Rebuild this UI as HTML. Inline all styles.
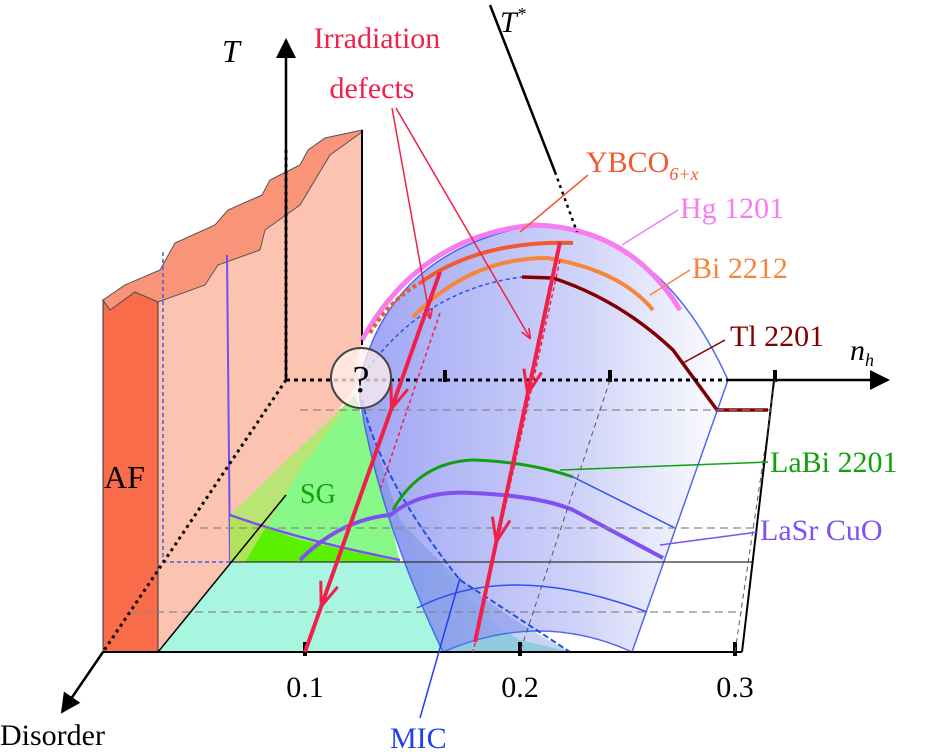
<!DOCTYPE html>
<html><head><meta charset="utf-8"><style>
html,body{margin:0;padding:0;background:#fff}
svg{display:block}
svg text{font-family:"Liberation Serif","DejaVu Serif","Times New Roman",serif !important}
</style></head><body>
<svg id="chart" width="931" height="754" viewBox="0 0 931 754" font-family="Liberation Serif, DejaVu Serif, serif">
<defs>
<linearGradient id="dome" x1="0" x2="1" y1="0" y2="0">
<stop offset="0" stop-color="#8f96f3"/><stop offset="0.6" stop-color="#c8ccf8"/><stop offset="1" stop-color="#ffffff"/>
</linearGradient>
<marker id="ar" viewBox="0 0 10 10" refX="9" refY="5" markerWidth="8" markerHeight="8" orient="auto"><path d="M0,0L10,5L0,10z" fill="#000"/></marker>
<marker id="arR" viewBox="0 0 10 10" refX="9" refY="5" markerWidth="7" markerHeight="7" orient="auto"><path d="M0,1L10,5L0,9" fill="none" stroke="#f0204a" stroke-width="1.5"/></marker>
</defs>

<path d="M230,562 L440,562 Q470,610 520,640 L570,652 L158,652 Z" fill="#a8f5e0"/>
<path d="M103,300 L110,310 L135,292 L158,302 L158,652 L103,652 Z" fill="#f86c4a" stroke="#333" stroke-width="1"/>
<path d="M158,302 L205,285 L218,265 L260,250 L265,230 L300,205 L330,155 L362,132 L362,345 Q350,370 360,380 L230,562 L158,652 Z" fill="#fcc3b0"/>
<path d="M103,300 L125,285 L160,270 L175,243 L215,225 L228,210 L262,195 L270,180 L300,165 L308,150 L325,138 L362,130 L362,132 L330,155 L300,205 L265,230 L260,250 L218,265 L205,285 L158,302 L135,292 L110,310 Z" fill="#f99478" stroke="#555" stroke-width="1"/>
<line x1="362" y1="130" x2="362" y2="345" stroke="#000" stroke-width="2"/>
<line x1="158" y1="302" x2="158" y2="652" stroke="#333" stroke-width="1"/>
<line x1="227" y1="255" x2="230" y2="562" stroke="#7050f0" stroke-width="2"/>
<line x1="163" y1="252" x2="163" y2="562" stroke="#4060f0" stroke-width="1.5" stroke-dasharray="4,3"/>
<line x1="163" y1="562" x2="230" y2="562" stroke="#4060f0" stroke-width="1.5" stroke-dasharray="4,3"/>

<path d="M230,515 L355,395 Q380,470 400,562 L230,562 Z" fill="#88f888"/>
<path d="M230,515 L230,562 L400,562 L300,540 Z" fill="#5af000"/>
<path d="M230,515 L355,395 L300,470 L245,562 L230,562 Z" fill="#c5e070" opacity="0.8"/>

<path d="M360,380 Q390,250 535,225 Q660,230 728,380 L632,652 Q540,610 443,652 Q380,520 360,400 Z" fill="url(#dome)" opacity="0.85" stroke="#3050f0" stroke-width="1.5"/>
<path d="M360,400 Q380,520 443,652 L570,652 Q470,600 400,520 Z" fill="#6080e0" opacity="0.35"/>
<path d="M362,340 Q420,235 535,225 Q630,228 680,310" fill="none" stroke="#f77cf0" stroke-width="5"/>
<path d="M370,333 Q390,300 420,283" fill="none" stroke="#f05a30" stroke-width="4" stroke-dasharray="4,3"/>
<path d="M420,283 Q480,240 573,243" fill="none" stroke="#f05a30" stroke-width="4"/>
<path d="M413,317 Q470,258 547,258 Q620,270 653,310" fill="none" stroke="#f5863a" stroke-width="4"/>
<path d="M522,277 L553,278 Q620,300 673,350 L717,410 L768,410" fill="none" stroke="#800000" stroke-width="3.5"/>
<path d="M360,380 Q420,290 522,277" fill="none" stroke="#3050f0" stroke-width="1.5" stroke-dasharray="4,3"/>
<path d="M362,400 Q380,480 460,580 L570,652" fill="none" stroke="#2050e0" stroke-width="2" stroke-dasharray="6,3"/>
<path d="M393,510 Q420,462 473,460 Q530,462 573,477" fill="none" stroke="#10a010" stroke-width="3"/>
<path d="M573,477 L675,528" fill="none" stroke="#3050f0" stroke-width="1.5"/>
<path d="M300,560 Q340,520 390,515 L400,508 Q430,490 473,493 Q540,496 573,510 L663,558" fill="none" stroke="#8050f0" stroke-width="4"/>
<path d="M230,515 Q300,540 400,560" fill="none" stroke="#8050f0" stroke-width="2.5"/>
<path d="M417,608 Q510,560 647,612" fill="none" stroke="#3050f0" stroke-width="1.5"/>

<g stroke="#888" stroke-width="1.2" stroke-dasharray="8,5" fill="none">
<line x1="300" y1="410" x2="770" y2="410"/>
<line x1="200" y1="528" x2="755" y2="528"/>
<line x1="130" y1="612" x2="742" y2="612"/>
</g>
<line x1="230" y1="562" x2="752" y2="562" stroke="#333" stroke-width="1.2"/>

<g id="axes"></g>

<g id="red" fill="none" stroke="#f0204a">
<line x1="440" y1="313" x2="380" y2="490" stroke-width="1.5" stroke-dasharray="4,3"/>
<line x1="560" y1="260" x2="473" y2="652" stroke-width="1.5" stroke-dasharray="4,3"/>
<line x1="440" y1="272" x2="305" y2="652" stroke-width="4"/>
<line x1="560" y1="242" x2="475" y2="642" stroke-width="4"/>
</g>

<circle cx="361" cy="378" r="30" fill="#fff0ee" fill-opacity="0.75" stroke="#444" stroke-width="2"/>
<text x="361" y="392" font-size="38" text-anchor="middle" fill="#000">?</text>

<line x1="490" y1="5" x2="555" y2="172" stroke="#000" stroke-width="2.5"/>
<line x1="555" y1="172" x2="577" y2="232" stroke="#000" stroke-width="2.5" stroke-dasharray="3,4"/>

<g fill="none" stroke-width="1.5">
<line x1="392" y1="108" x2="430" y2="318" stroke="#f0204a" marker-end="url(#arR)"/>
<line x1="396" y1="108" x2="530" y2="338" stroke="#f0204a" marker-end="url(#arR)"/>
<line x1="588" y1="175" x2="520" y2="232" stroke="#f05a30"/>
<line x1="678" y1="210" x2="622" y2="245" stroke="#f77cf0"/>
<line x1="690" y1="270" x2="650" y2="295" stroke="#f5863a"/>
<line x1="725" y1="340" x2="683" y2="363" stroke="#800000"/>
<line x1="768" y1="462" x2="560" y2="470" stroke="#10a010"/>
<line x1="758" y1="532" x2="660" y2="545" stroke="#8050f0"/>
<line x1="420" y1="718" x2="460" y2="578" stroke="#2040f0"/>
</g>

<g>
<text x="222" y="62" font-size="32" font-style="italic">T</text>
<text x="500" y="32" font-size="30" font-style="italic">T<tspan font-size="18" dy="-12">*</tspan></text>
<text x="377" y="48" font-size="30" fill="#f0204a" text-anchor="middle">Irradiation</text>
<text x="372" y="98" font-size="30" fill="#f0204a" text-anchor="middle">defects</text>
<text x="586" y="172" font-size="30" fill="#f05a30">YBCO<tspan font-size="18" dy="8" font-style="italic">6+x</tspan></text>
<text x="680" y="218" font-size="30" fill="#f77cf0">Hg 1201</text>
<text x="692" y="278" font-size="30" fill="#f5863a">Bi 2212</text>
<text x="730" y="346" font-size="30" fill="#800000">Tl 2201</text>
<text x="850" y="360" font-size="30" font-style="italic">n<tspan font-size="18" dy="6">h</tspan></text>
<text x="770" y="472" font-size="30" fill="#10a010">LaBi 2201</text>
<text x="760" y="540" font-size="30" fill="#8050f0">LaSr CuO</text>
<text x="104" y="488" font-size="32">AF</text>
<text x="300" y="503" font-size="28" fill="#10a010">SG</text>
<text x="0" y="745" font-size="30">Disorder</text>
<text x="390" y="748" font-size="30" fill="#2040f0">MIC</text>
</g>
</svg>
<script>
const nTicks = [0.1, 0.2, 0.3];
const tickLabels = ["0.1", "0.2", "0.3"];
const NS = "http://www.w3.org/2000/svg";
const xFront = n => 305 + (n - 0.1) * 2150;
const xBack = n => 445 + (n - 0.1) * 1650;
const axes = document.getElementById('axes');
function mk(tag, attrs, parent) {
  const e = document.createElementNS(NS, tag);
  for (const k in attrs) e.setAttribute(k, attrs[k]);
  (parent || axes).appendChild(e);
  return e;
}
let e;
e = mk('line', {x1:286, y1:380, x2:286, y2:40, stroke:'#000', 'stroke-width':2.5, 'marker-end':'url(#ar)'});


e = mk('line', {x1:286, y1:150, x2:286, y2:380, stroke:'#000', 'stroke-width':3, 'stroke-dasharray':'3,4'});


e = mk('line', {x1:286, y1:380, x2:728, y2:380, stroke:'#000', 'stroke-width':3, 'stroke-dasharray':'4,4'});


e = mk('line', {x1:728, y1:380, x2:888, y2:380, stroke:'#000', 'stroke-width':2.5, 'marker-end':'url(#ar)'});


e = mk('line', {x1:286, y1:380, x2:103, y2:652, stroke:'#000', 'stroke-width':3, 'stroke-dasharray':'3,4'});


e = mk('line', {x1:103, y1:652, x2:62, y2:712, stroke:'#000', 'stroke-width':2.5, 'marker-end':'url(#ar)'});


e = mk('line', {x1:103, y1:652, x2:742, y2:652, stroke:'#000', 'stroke-width':2});


e = mk('line', {x1:xBack(0.3), y1:372, x2:742, y2:652, stroke:'#000', 'stroke-width':2});


e = mk('line', {x1:158, y1:652, x2:286, y2:495, stroke:'#000', 'stroke-width':1.5});


nTicks.forEach((n, i) => {
  let t = mk('line', {x1:xFront(n), y1:642, x2:xFront(n), y2:656, stroke:'#000', 'stroke-width':4});
  
  
  t = mk('line', {x1:xBack(n), y1:370, x2:xBack(n), y2:382, stroke:'#000', 'stroke-width':4});
  
  
  if (i > 0) {
    t = mk('line', {x1:xBack(n), y1:380, x2:xFront(n), y2:652, stroke:'#555', 'stroke-width':1, 'stroke-dasharray':'5,4'});
    
    
  }
  const lab = mk('text', {x:xFront(n), y:697, 'font-size':30, 'text-anchor':'middle'});
  lab.textContent = tickLabels[i];
  
  
});
const red = document.getElementById('red');
const redLines = [[440,272,305,652],[560,242,475,642]];
const arrowFrac = [[0.36,0.88],[0.38,0.75]];
redLines.forEach((L, i) => {
  const dx = L[2]-L[0], dy = L[3]-L[1], len = Math.hypot(dx,dy);
  const ux = dx/len, uy = dy/len, px = -uy, py = ux;
  arrowFrac[i].forEach(f => {
    const ax = L[0]+dx*f, ay = L[1]+dy*f;
    const bx = ax-ux*24, by = ay-uy*24;
    const a = mk('path', {d:`M${bx+px*9},${by+py*9} L${ax},${ay} L${bx-px*9},${by-py*9}`, stroke:'#f0204a', 'stroke-width':3, fill:'none'}, red);
    
    
  });
});
</script>
</body></html>
